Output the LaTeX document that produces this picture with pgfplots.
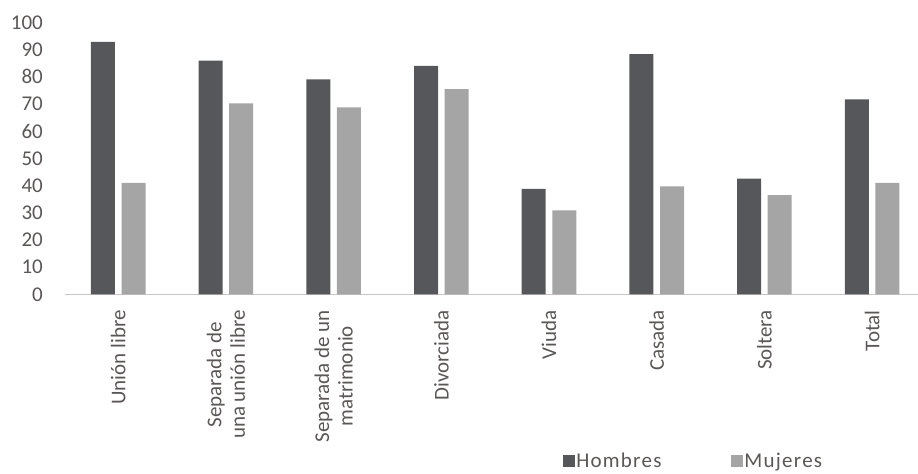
\documentclass[border=0pt]{standalone}
\usepackage{pgfplots}
\pgfplotsset{compat=1.18}
\usepackage{fontspec}
\setmainfont{Carlito}
\newfontfamily\legfont[LetterSpace=6]{Carlito}

\definecolor{hombres}{RGB}{86,87,90}
\definecolor{mujeres}{RGB}{165,165,165}
\definecolor{txt}{RGB}{92,86,86}
\definecolor{baseline}{RGB}{205,196,196}

\begin{document}
\begin{tikzpicture}
\useasboundingbox (-65bp,-179.7bp) rectangle (853bp,294.3bp);
\begin{axis}[
    at={(0,0)}, anchor=south west,
    width=853bp, height=272bp, scale only axis,
    xmin=-0.494, xmax=7.426,
    ymin=0, ymax=100,
    axis lines*=left,
    y axis line style={draw=none},
    x axis line style={draw=baseline, line width=1.3bp},
    major tick length=0pt,
    ytick={0,10,...,100},
    xtick={0,...,7},
    xticklabels={Unión libre,{Separada de\\una unión libre},{Separada de un\\matrimonio},Divorciada,Viuda,Casada,Soltera,Total},
    /pgf/number format/assume math mode=true,
    tick label style={font=\fontsize{21bp}{23.5bp}\selectfont, text=txt},
    yticklabel style={anchor=east, inner sep=0pt, xshift=-22bp},
    xticklabel style={yshift=-15.7bp, rotate=90, anchor=east, align=center, inner sep=0pt},
    ybar, bar width=24bp,
    legend columns=2,
    legend style={draw=none, fill=none, at={(axis description cs:0.7365,-0.612)}, anchor=center,
        font=\legfont\fontsize{21bp}{23.5bp}\selectfont, text=txt,
        nodes={inner xsep=1.5bp, inner ysep=0pt},
        /tikz/every even column/.append style={column sep=68bp}},
    legend image code/.code={\draw[#1,draw=none] (0bp,-6bp) rectangle (12bp,6bp);},
]
\addplot[fill=hombres, draw=none, bar shift=-15.3bp] coordinates {
    (0,92.8) (1,85.9) (2,79.0) (3,84.0) (4,38.8) (5,88.3) (6,42.5) (7,71.7)};
\addplot[fill=mujeres, draw=none, bar shift=15.3bp] coordinates {
    (0,41.0) (1,70.2) (2,68.7) (3,75.4) (4,30.9) (5,39.7) (6,36.5) (7,41.0)};
\legend{Hombres,Mujeres}
\end{axis}
\end{tikzpicture}
\end{document}
